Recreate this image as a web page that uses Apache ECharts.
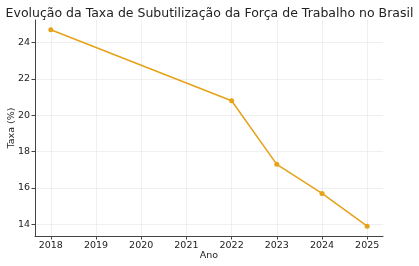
<!DOCTYPE html>
<html><head><meta charset="utf-8">
<script src="https://cdn.jsdelivr.net/npm/echarts@6/dist/echarts.min.js"></script>
<style>html,body{margin:0;padding:0;background:#fff}#c{width:419px;height:266px}</style>
</head><body><div id="c"></div>
<script>
const years = [2018, 2022, 2023, 2024, 2025];
const rates = [24.7, 20.8, 17.3, 15.7, 13.9];
const xTicks = [2018, 2019, 2020, 2021, 2022, 2023, 2024, 2025];
const yTicks = [14, 16, 18, 20, 22, 24];
const titleText = 'Evolução da Taxa de Subutilização da Força de Trabalho no Brasil';

const font = 'DejaVu Sans';
const chart = echarts.init(document.getElementById('c'), null, {renderer: 'canvas'});
const xMin = 2017.65, xMax = 2025.35, yMin = 13.36, yMax = 25.24;
chart.setOption({
  animation: false,
  title: {text: titleText, left: 'center', top: 2,
    textStyle: {fontFamily: font, fontSize: 12.5, fontWeight: 'normal', color: '#222'}},
  grid: {left: 35, right: 36, top: 20, bottom: 30, outerBoundsMode: 'none', containLabel: false},
  xAxis: {
    type: 'value', min: xMin, max: xMax,
    name: 'Ano', nameLocation: 'middle', nameGap: 15, nameMoveOverlap: false,
    nameTextStyle: {fontFamily: font, fontSize: 9.5, color: '#222'},
    axisLine: {onZero: false, lineStyle: {color: '#444', width: 1}},
    axisTick: {show: true, length: 3.5, customValues: xTicks, lineStyle: {color: '#444'}},
    axisLabel: {customValues: xTicks, fontFamily: font, fontSize: 9.5, color: '#222', margin: 5, formatter: v => String(v)},
    splitLine: {show: true, lineStyle: {color: '#ebebeb', width: 0.8}}
  },
  yAxis: {
    type: 'value', min: yMin, max: yMax,
    name: 'Taxa (%)', nameLocation: 'middle', nameGap: 18, nameRotate: 90, nameMoveOverlap: false,
    nameTextStyle: {fontFamily: font, fontSize: 9.5, color: '#222'},
    axisLine: {show: true, onZero: false, lineStyle: {color: '#444', width: 1}},
    axisTick: {show: true, length: 3.5, customValues: yTicks, lineStyle: {color: '#444'}},
    axisLabel: {customValues: yTicks, fontFamily: font, fontSize: 9.5, color: '#222', margin: 5, formatter: v => String(v)},
    splitLine: {show: true, lineStyle: {color: '#ebebeb', width: 0.8}}
  },
  series: [{
    type: 'line',
    data: years.map((y, i) => [y, rates[i]]),
    symbol: 'circle', symbolSize: 5,
    lineStyle: {color: '#e6a117', width: 1.5},
    itemStyle: {color: '#e6a117'}
  }]
});
</script></body></html>
